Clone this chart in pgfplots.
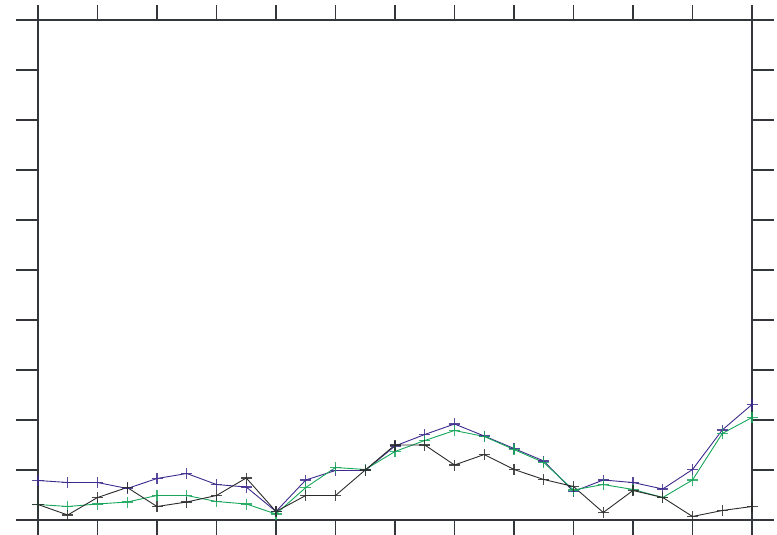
\documentclass[border=0pt]{standalone}
\usepackage{pgfplots}
\pgfplotsset{compat=1.18}
\definecolor{seriesA}{HTML}{3D2A8C}
\definecolor{seriesB}{HTML}{17A65A}
\definecolor{seriesC}{HTML}{2B2B2B}
\definecolor{axisgray}{HTML}{33373B}
\begin{document}
\begin{tikzpicture}
\begin{axis}[
  name=main,
  scale only axis,
  width=714bp, height=500bp,
  xmin=0, xmax=24, ymin=0, ymax=10,
  xtick={0,2,...,24}, ytick={0,1,...,10},
  xticklabels={}, yticklabels={},
  tick align=outside,
  major tick length=22bp,
  x tick style={/pgfplots/major tick length=15bp},
  tick style={axisgray, line width=1.1bp},
  axis line style={axisgray, line width=1.1bp},
  every axis plot/.append style={line width=0.9bp, mark size=5.5bp},
  clip=false,
]
\addplot[seriesA, mark=+, mark options={line width=1.1bp, opacity=0.85}] coordinates {
(0,0.79) (1,0.75) (2,0.75) (3,0.63) (4,0.83) (5,0.93) (6,0.71) (7,0.66) (8,0.17)
(9,0.80) (10,0.99) (11,0.99) (12,1.48) (13,1.71) (14,1.92) (15,1.68) (16,1.43)
(17,1.18) (18,0.57) (19,0.80) (20,0.75) (21,0.62) (22,1.01) (23,1.80) (24,2.31)};
\addplot[seriesB, mark=+, mark options={line width=1.1bp, opacity=0.85}] coordinates {
(0,0.31) (1,0.27) (2,0.32) (3,0.36) (4,0.49) (5,0.49) (6,0.37) (7,0.32) (8,0.12)
(9,0.65) (10,1.05) (11,1.01) (12,1.37) (13,1.59) (14,1.79) (15,1.67) (16,1.41)
(17,1.15) (18,0.60) (19,0.71) (20,0.61) (21,0.45) (22,0.80) (23,1.73) (24,2.05)};
\addplot[seriesC, mark=+, mark options={line width=1.1bp, opacity=0.85}] coordinates {
(0,0.31) (1,0.10) (2,0.45) (3,0.65) (4,0.27) (5,0.36) (6,0.49) (7,0.84) (8,0.17)
(9,0.49) (10,0.49) (11,1.00) (12,1.50) (13,1.50) (14,1.10) (15,1.31) (16,1.01)
(17,0.81) (18,0.67) (19,0.15) (20,0.59) (21,0.45) (22,0.07) (23,0.19) (24,0.27)};
\end{axis}
\pgfresetboundingbox
\path ([xshift=-38bp,yshift=-15bp]main.south west) rectangle ([xshift=25bp,yshift=20bp]main.north east);
\end{tikzpicture}
\end{document}
